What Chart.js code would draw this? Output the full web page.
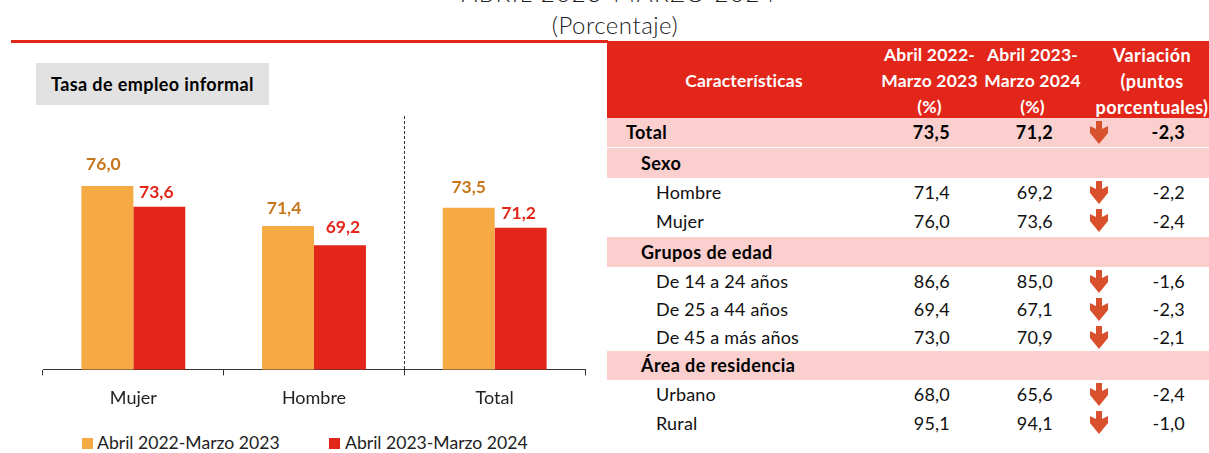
<!DOCTYPE html>
<html><head><meta charset="utf-8">
<script src="https://cdn.jsdelivr.net/npm/chart.js@4"></script>
<style>
html,body{margin:0;padding:0;background:#fff;width:1209px;height:453px;overflow:hidden;font-family:Lato,"Open Sans",sans-serif;color:#111}
.abs{position:absolute}
.ttl{left:0;width:1238px;text-align:center;font-size:24px;font-weight:300;color:#222;white-space:nowrap}
#rule{left:11px;top:40px;width:597px;height:3px;background:#e2261a}
#badge{left:36px;top:63px;width:233px;height:42px;background:#e2e2e2;font-weight:700;font-size:18px;letter-spacing:.4px;line-height:42px;text-align:center;color:#000}
#wrap{left:0;top:110px;width:600px;height:313px}
#legend{left:0;top:430px;width:600px;height:24px;font-size:17.6px;color:#222;line-height:26px}
#legend i{position:absolute;top:8px;width:11px;height:11px}
#legend span{position:absolute;top:0;white-space:nowrap}
table{position:absolute;left:607px;top:41px;width:602px;border-collapse:separate;border-spacing:0;table-layout:fixed;font-size:18px;letter-spacing:.2px;color:#111}
th{background:#e2261a;color:#fff;font-weight:700;height:77px;padding:0;text-align:center;white-space:nowrap;overflow:visible;box-sizing:border-box;vertical-align:top}
th div{height:77px;line-height:26px;position:relative;top:1px;font-size:17.5px;letter-spacing:.2px}
th:first-child div{line-height:78px}
th:last-child div{font-size:18px;letter-spacing:.4px}
td{padding:0;white-space:nowrap;box-sizing:border-box}
tr.sec td{background:#facfcd;font-weight:700;letter-spacing:.4px;color:#000}
td.n{text-align:right}
</style></head><body>
<div class="abs ttl" style="top:-22px;letter-spacing:1.6px">ABRIL 2023-MARZO 2024</div>
<div class="abs ttl" style="top:10px;width:1230px;letter-spacing:.5px">(Porcentaje)</div>
<div class="abs" id="rule"></div>
<div class="abs" id="badge">Tasa de empleo informal</div>
<div class="abs" id="wrap"><canvas id="c" width="600" height="313"></canvas></div>
<div class="abs" id="legend"></div>
<table id="t"><colgroup><col style="width:270px"><col style="width:103px"><col style="width:103px"><col style="width:126px"></colgroup><thead></thead><tbody></tbody></table>
<script>
const categories=["Mujer","Hombre","Total"];
const series2223=[76.0,71.4,73.5];
const series2324=[73.6,69.2,71.2];
const seriesNames=["Abril 2022-Marzo 2023","Abril 2023-Marzo 2024"];
const tableHead=["Características","Abril 2022-<br>Marzo 2023<br>(%)","Abril 2023-<br>Marzo 2024<br>(%)","Variación<br>(puntos<br>porcentuales)"];
const rowLabels=["Total","Sexo","Hombre","Mujer","Grupos de edad","De 14 a 24 años","De 25 a 44 años","De 45 a más años","Área de residencia","Urbano","Rural"];
const rowLevels=[0,1,2,2,1,2,2,2,1,2,2];
const col2223=[73.5,null,71.4,76.0,null,86.6,69.4,73.0,null,68.0,95.1];
const col2324=[71.2,null,69.2,73.6,null,85.0,67.1,70.9,null,65.6,94.1];
const colVar=[-2.3,null,-2.2,-2.4,null,-1.6,-2.3,-2.1,null,-2.4,-1.0];
const colors=["#f6aa43","#e2261a"];
const labelColors=["#c8761c","#e2261a"];
const rowHeights=[29,30,28,31,30,28,28,28,29,28,30];
const headPad=[4,2,2,12];
const labelDx=[[-4,-3],[-4,3],[0,-2]];
const labelDy=[[14,7],[10,10],[12,6]];
const fmt=v=>v.toFixed(1).replace(".",",");
const arrow='<svg width="18" height="23" viewBox="0 0 18 23" style="display:block"><path d="M6 0H12V8L18 5V12L9 23L0 12V5L6 8Z" fill="#d9512c"/></svg>';
document.querySelector("#t thead").innerHTML="<tr>"+tableHead.map((h,i)=>`<th style="padding-left:${headPad[i]}px"><div>${h}</div></th>`).join("")+"</tr>";
document.querySelector("#t tbody").innerHTML=rowLabels.map((l,i)=>{
  const pad=[19,34,49][rowLevels[i]],sec=rowLevels[i]<2,has=col2223[i]!==null,h=rowHeights[i];
  const edge=i===0?"border-bottom:1px solid #fff;":"";
  const st=`height:${h}px;line-height:${h}px;${edge}`;
  return `<tr class="${sec?"sec":""}"><td style="${st}padding-left:${pad}px">${l}</td>`+
   (has?`<td class="n" style="${st}padding-right:30px">${fmt(col2223[i])}</td><td class="n" style="${st}padding-right:30px">${fmt(col2324[i])}</td><td style="${st}position:relative"><span style="position:absolute;left:7px;top:3px">${arrow}</span><span style="position:absolute;right:24px;top:0">${fmt(colVar[i])}</span></td>`
   :`<td style="${st}"></td><td style="${st}"></td><td style="${st}"></td>`)+"</tr>";
}).join("");
document.getElementById("legend").innerHTML=
 `<i style="left:82px;background:${colors[0]}"></i><span style="left:97px">${seriesNames[0]}</span>`+
 `<i style="left:329px;background:${colors[1]}"></i><span style="left:345px">${seriesNames[1]}</span>`;
const sepLine={id:"sepLine",afterDatasetsDraw(ch){
  const x=ch.scales.x,g=ch.ctx,px=Math.round((x.getPixelForValue(1)+x.getPixelForValue(2))/2)+.5;
  g.save();g.strokeStyle="#333";g.lineWidth=1;g.setLineDash([3,2]);g.beginPath();g.moveTo(px,ch.chartArea.top);g.lineTo(px,ch.chartArea.bottom);g.stroke();g.restore();
}};
const valueLabels={id:"valueLabels",afterDatasetsDraw(ch){
  const g=ch.ctx;g.save();g.textAlign="center";g.textBaseline="middle";g.font="700 17.5px Lato";
  ch.data.datasets.forEach((d,i)=>{g.fillStyle=labelColors[i];
    ch.getDatasetMeta(i).data.forEach((b,j)=>g.fillText(fmt(d.data[j]),b.x+labelDx[j][i],b.y-8-labelDy[j][i]));});
  g.restore();
}};
new Chart(document.getElementById("c"),{type:"bar",
 data:{labels:categories,datasets:[
  {label:seriesNames[0],data:series2223,backgroundColor:colors[0]},
  {label:seriesNames[1],data:series2324,backgroundColor:colors[1]}]},
 options:{responsive:false,animation:false,
  layout:{padding:{left:43,right:15,top:6,bottom:2}},
  datasets:{bar:{categoryPercentage:.575,barPercentage:1}},
  scales:{
   y:{min:55,max:84,display:false},
   x:{grid:{drawOnChartArea:false,tickColor:"#333",tickLength:6,offset:true},border:{color:"#333"},
      ticks:{color:"#222",font:{family:"Lato",size:18},padding:12}}
  },
  plugins:{tooltip:{enabled:false},legend:{display:false}}
 },plugins:[sepLine,valueLabels]});
</script></body></html>
